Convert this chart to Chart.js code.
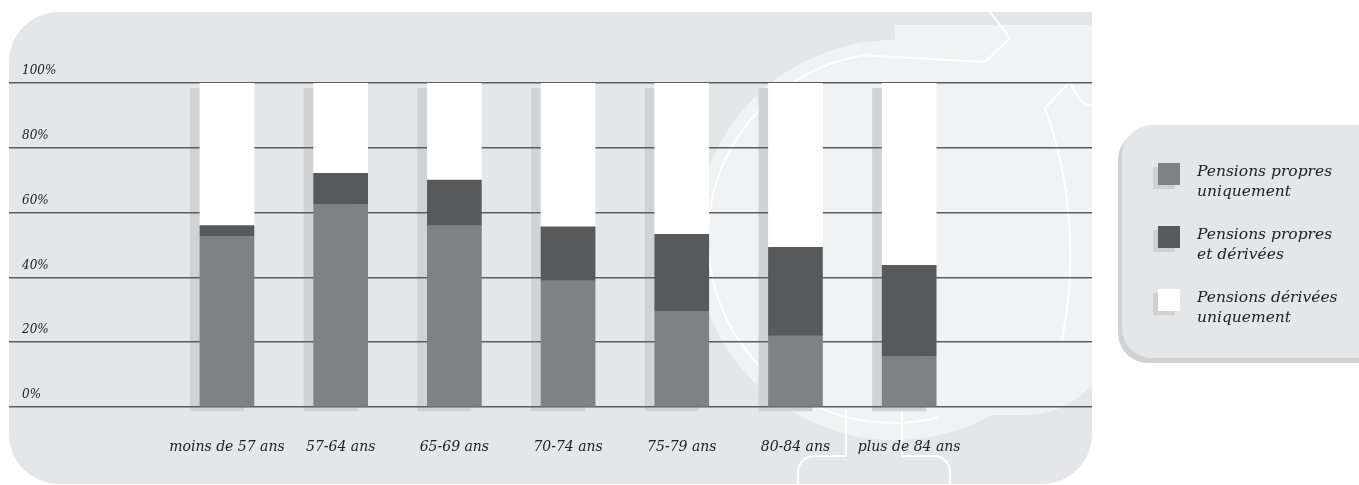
<!DOCTYPE html>
<html lang="fr">
<head>
<meta charset="utf-8">
<title>Type de pension selon l'âge</title>
<script src="https://cdn.jsdelivr.net/npm/chart.js@4.4.1/dist/chart.umd.min.js"></script>
<style>
  html, body { margin: 0; padding: 0; background: #fff; overflow: hidden; }
  #wrap { position: relative; width: 1359px; height: 485px; }
  #chart { position: absolute; left: 0; top: 0; }
  .legend {
    position: absolute; left: 1122px; top: 125px; width: 270px; height: 233px;
    box-sizing: border-box; padding: 38px 0 0 36px;
    background: #e5e6e8; border-radius: 30px; box-shadow: -4px 5px 0 #d0d1d3;
    font: italic 15.5px 'DejaVu Serif', serif; color: #222;
  }
  .legend-item { display: flex; height: 63px; }
  .swatch { flex: none; width: 22px; height: 22px; margin-right: 17px; box-shadow: -5px 4px 0 #cfd0d2; }
  .legend-text { line-height: 20px; margin-top: -2px; }
</style>
</head>
<body>
<div id="wrap">
  <canvas id="chart" width="1359" height="485"></canvas>
  <div class="legend" id="legend"></div>
</div>
<script>
// age groups on the x axis
const ageGroups = ['moins de 57 ans', '57-64 ans', '65-69 ans', '70-74 ans', '75-79 ans', '80-84 ans', 'plus de 84 ans'];

// share of pensioners (%) by kind of pension
const propresSeules = [52.7, 62.5, 56.0, 39.0, 29.5, 22.0, 15.6];
const propresEtDerivees = [3.3, 9.6, 14.0, 16.6, 23.8, 27.3, 28.1];
const deriveesSeules = [44.0, 27.9, 30.0, 44.4, 46.7, 50.7, 56.3];

const seriesLabels = [
  ['Pensions propres', 'uniquement'],
  ['Pensions propres', 'et dérivées'],
  ['Pensions dérivées', 'uniquement']
];
const seriesColors = ['#808184', '#58595b', '#ffffff'];

const yTicks = [0, 20, 40, 60, 80, 100];

const SERIF = "'DejaVu Serif', 'Liberation Serif', serif";

// grey rounded panel with the pale watermark behind the plot
const panelBackdrop = {
  id: 'panelBackdrop',
  beforeDraw(chart) {
    const { ctx } = chart;
    ctx.save();
    ctx.beginPath();
    ctx.roundRect(9, 12, 1083, 472, [50, 0, 50, 50]);
    ctx.fillStyle = '#e5e6e8';
    ctx.fill();
    ctx.clip();

    ctx.fillStyle = '#f1f2f4';
    ctx.beginPath();
    ctx.arc(895, 240, 200, 0, Math.PI * 2);
    ctx.fill();
    ctx.beginPath();
    ctx.roundRect(895, 25, 220, 390, [0, 0, 90, 0]);
    ctx.fill();

    ctx.strokeStyle = '#ffffff';
    ctx.lineWidth = 2;
    ctx.lineJoin = 'round';
    ctx.beginPath();
    ctx.arc(893, 238, 185, Math.PI * 0.42, Math.PI * 1.45);
    ctx.lineTo(985, 62);
    ctx.lineTo(1010, 38);
    ctx.lineTo(990, 12);
    ctx.stroke();
    ctx.beginPath();
    ctx.moveTo(1062, 340);
    ctx.quadraticCurveTo(1085, 220, 1045, 108);
    ctx.lineTo(1070, 82);
    ctx.quadraticCurveTo(1082, 110, 1095, 104);
    ctx.stroke();
    ctx.beginPath();
    ctx.moveTo(798, 490);
    ctx.lineTo(798, 472);
    ctx.arcTo(798, 456, 815, 456, 16);
    ctx.lineTo(846, 456);
    ctx.lineTo(846, 410);
    ctx.moveTo(902, 410);
    ctx.lineTo(902, 456);
    ctx.lineTo(934, 456);
    ctx.arcTo(950, 456, 950, 472, 16);
    ctx.lineTo(950, 490);
    ctx.stroke();
    ctx.restore();
  }
};

// flat offset shadow behind each full stacked column
const columnShadow = {
  id: 'columnShadow',
  beforeDraw(chart) {
    const { ctx } = chart;
    const bottomMeta = chart.getDatasetMeta(0);
    const topMeta = chart.getDatasetMeta(chart.data.datasets.length - 1);
    ctx.save();
    ctx.fillStyle = '#d1d2d4';
    bottomMeta.data.forEach((bar, i) => {
      const top = topMeta.data[i].y;
      const { x, width, base } = bar;
      ctx.fillRect(x - width / 2 - 10, top + 5, width, base - top);
    });
    ctx.restore();
  }
};

const seriesData = [propresSeules, propresEtDerivees, deriveesSeules];

const datasets = seriesData.map((values, s) => ({
  label: seriesLabels[s].join(' '),
  data: values.map((v, i) => ({ x: i, y: v })),
  backgroundColor: seriesColors[s],
  borderWidth: 0,
  barThickness: 54
}));

new Chart(document.getElementById('chart'), {
  type: 'bar',
  data: { datasets },
  plugins: [panelBackdrop, columnShadow],
  options: {
    responsive: false,
    animation: false,
    events: [],
    layout: { padding: { top: 83, left: 9, right: 267, bottom: 0 } },
    plugins: { legend: { display: false }, tooltip: { enabled: false } },
    scales: {
      x: {
        type: 'linear',
        stacked: true,
        offset: false,
        bounds: 'data',
        min: -1.917,
        max: 7.608,
        afterBuildTicks: (scale) => { scale.ticks = ageGroups.map((_, i) => ({ value: i })); },
        afterFit: (scale) => { scale.height = 78; },
        grid: { display: false },
        border: { display: false },
        ticks: {
          autoSkip: false,
          maxRotation: 0,
          padding: 24,
          color: '#222',
          font: { family: SERIF, style: 'italic', size: 14 },
          callback: (value) => ageGroups[value]
        }
      },
      y: {
        stacked: true,
        min: 0,
        max: 100,
        afterBuildTicks: (scale) => { scale.ticks = yTicks.map((value) => ({ value })); },
        afterFit: (scale) => { scale.width = 0; },
        grid: { color: '#5b5c5e', lineWidth: 1.5, drawTicks: false },
        border: { display: false },
        ticks: {
          mirror: true,
          padding: 13,
          labelOffset: -12,
          color: '#222',
          font: { family: SERIF, style: 'italic', size: 12 },
          callback: (value) => value + '%'
        }
      }
    }
  }
});

// legend panel built from the series
const legend = document.getElementById('legend');
seriesLabels.forEach((lines, s) => {
  const item = document.createElement('div');
  item.className = 'legend-item';
  const swatch = document.createElement('div');
  swatch.className = 'swatch';
  swatch.style.background = seriesColors[s];
  const text = document.createElement('div');
  text.className = 'legend-text';
  text.innerHTML = lines.join('<br>');
  item.append(swatch, text);
  legend.append(item);
});
</script>
</body>
</html>
